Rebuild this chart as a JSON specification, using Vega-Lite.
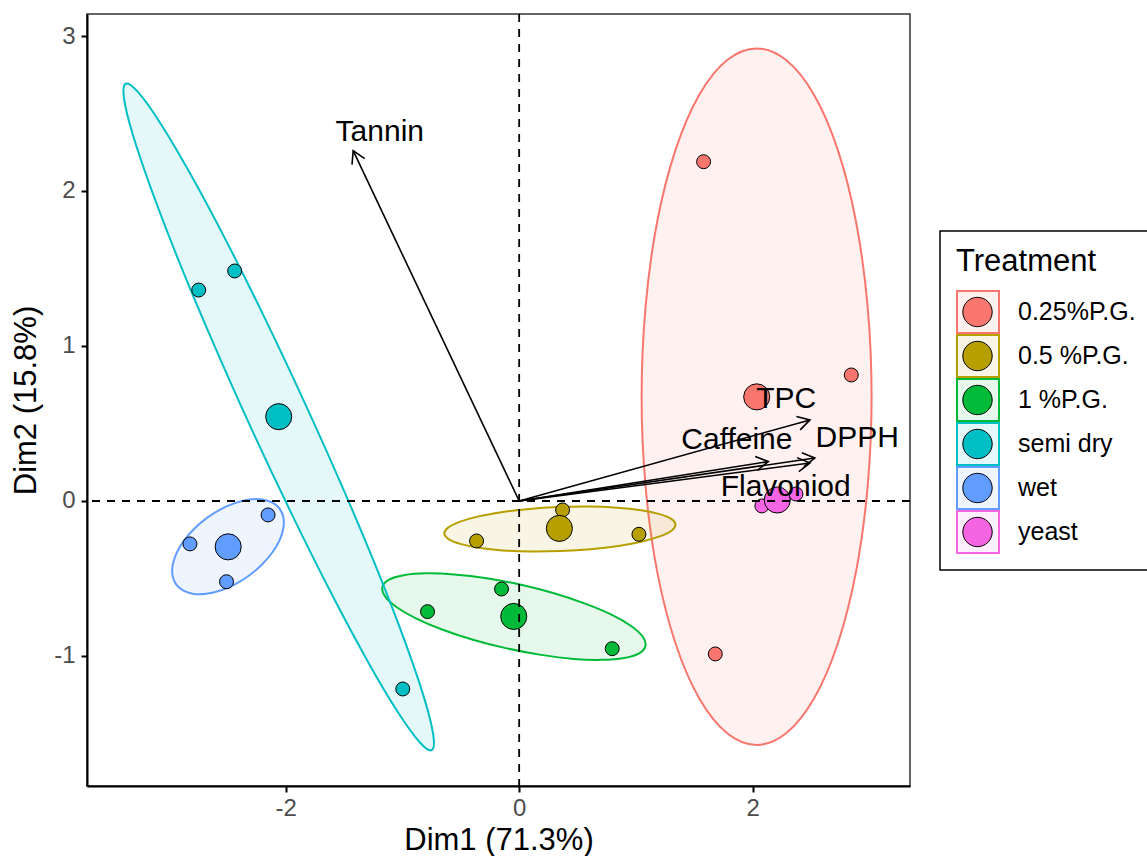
{
  "$schema": "https://vega.github.io/schema/vega-lite/v6.json",
  "width": 823,
  "height": 772,
  "autosize": {"type": "none"},
  "padding": {"left": 87, "top": 14, "right": 237, "bottom": 70},
  "config": {
    "font": "Liberation Sans",
    "locale": {"number": {"decimal": ".", "thousands": ",", "grouping": [3], "currency": ["$", ""], "minus": "-"}},
    "view": {"stroke": "#333333", "strokeWidth": 1.5},
    "axis": {
      "grid": false,
      "domainColor": "black",
      "domainWidth": 2,
      "tickColor": "black",
      "tickWidth": 2,
      "tickSize": 6,
      "format": "d",
      "labelFont": "Liberation Sans",
      "labelFontSize": 24,
      "labelColor": "#4D4D4D",
      "titleFont": "Liberation Sans",
      "titleFontSize": 31,
      "titleFontWeight": "normal",
      "titleColor": "black"
    }
  },
  "datasets": {
    "ellipses": [
      {"Treatment": "0.25%P.G.", "i": 0, "x": 2.034, "y": 2.920},
      {"Treatment": "0.25%P.G.", "i": 1, "x": 2.289, "y": 2.843},
      {"Treatment": "0.25%P.G.", "i": 2, "x": 2.527, "y": 2.619},
      {"Treatment": "0.25%P.G.", "i": 3, "x": 2.731, "y": 2.262},
      {"Treatment": "0.25%P.G.", "i": 4, "x": 2.887, "y": 1.797},
      {"Treatment": "0.25%P.G.", "i": 5, "x": 2.985, "y": 1.255},
      {"Treatment": "0.25%P.G.", "i": 6, "x": 3.019, "y": 0.673},
      {"Treatment": "0.25%P.G.", "i": 7, "x": 2.985, "y": 0.092},
      {"Treatment": "0.25%P.G.", "i": 8, "x": 2.887, "y": -0.451},
      {"Treatment": "0.25%P.G.", "i": 9, "x": 2.731, "y": -0.916},
      {"Treatment": "0.25%P.G.", "i": 10, "x": 2.527, "y": -1.273},
      {"Treatment": "0.25%P.G.", "i": 11, "x": 2.289, "y": -1.497},
      {"Treatment": "0.25%P.G.", "i": 12, "x": 2.034, "y": -1.574},
      {"Treatment": "0.25%P.G.", "i": 13, "x": 1.779, "y": -1.497},
      {"Treatment": "0.25%P.G.", "i": 14, "x": 1.542, "y": -1.273},
      {"Treatment": "0.25%P.G.", "i": 15, "x": 1.338, "y": -0.916},
      {"Treatment": "0.25%P.G.", "i": 16, "x": 1.181, "y": -0.451},
      {"Treatment": "0.25%P.G.", "i": 17, "x": 1.083, "y": 0.092},
      {"Treatment": "0.25%P.G.", "i": 18, "x": 1.049, "y": 0.673},
      {"Treatment": "0.25%P.G.", "i": 19, "x": 1.083, "y": 1.255},
      {"Treatment": "0.25%P.G.", "i": 20, "x": 1.181, "y": 1.797},
      {"Treatment": "0.25%P.G.", "i": 21, "x": 1.338, "y": 2.262},
      {"Treatment": "0.25%P.G.", "i": 22, "x": 1.542, "y": 2.619},
      {"Treatment": "0.25%P.G.", "i": 23, "x": 1.779, "y": 2.843},

      {"Treatment": "0.5 %P.G.", "i": 0, "x": 1.339, "y": -0.152},
      {"Treatment": "0.5 %P.G.", "i": 1, "x": 1.307, "y": -0.190},
      {"Treatment": "0.5 %P.G.", "i": 2, "x": 1.210, "y": -0.227},
      {"Treatment": "0.5 %P.G.", "i": 3, "x": 1.054, "y": -0.261},
      {"Treatment": "0.5 %P.G.", "i": 4, "x": 0.850, "y": -0.290},
      {"Treatment": "0.5 %P.G.", "i": 5, "x": 0.612, "y": -0.311},
      {"Treatment": "0.5 %P.G.", "i": 6, "x": 0.356, "y": -0.323},
      {"Treatment": "0.5 %P.G.", "i": 7, "x": 0.100, "y": -0.326},
      {"Treatment": "0.5 %P.G.", "i": 8, "x": -0.140, "y": -0.319},
      {"Treatment": "0.5 %P.G.", "i": 9, "x": -0.346, "y": -0.302},
      {"Treatment": "0.5 %P.G.", "i": 10, "x": -0.505, "y": -0.277},
      {"Treatment": "0.5 %P.G.", "i": 11, "x": -0.605, "y": -0.246},
      {"Treatment": "0.5 %P.G.", "i": 12, "x": -0.641, "y": -0.210},
      {"Treatment": "0.5 %P.G.", "i": 13, "x": -0.609, "y": -0.172},
      {"Treatment": "0.5 %P.G.", "i": 14, "x": -0.512, "y": -0.135},
      {"Treatment": "0.5 %P.G.", "i": 15, "x": -0.356, "y": -0.101},
      {"Treatment": "0.5 %P.G.", "i": 16, "x": -0.152, "y": -0.073},
      {"Treatment": "0.5 %P.G.", "i": 17, "x": 0.086, "y": -0.051},
      {"Treatment": "0.5 %P.G.", "i": 18, "x": 0.342, "y": -0.039},
      {"Treatment": "0.5 %P.G.", "i": 19, "x": 0.598, "y": -0.036},
      {"Treatment": "0.5 %P.G.", "i": 20, "x": 0.838, "y": -0.043},
      {"Treatment": "0.5 %P.G.", "i": 21, "x": 1.044, "y": -0.060},
      {"Treatment": "0.5 %P.G.", "i": 22, "x": 1.203, "y": -0.085},
      {"Treatment": "0.5 %P.G.", "i": 23, "x": 1.303, "y": -0.116},

      {"Treatment": "1 %P.G.", "i": 0, "x": 1.082, "y": -0.936},
      {"Treatment": "1 %P.G.", "i": 1, "x": 1.028, "y": -0.983},
      {"Treatment": "1 %P.G.", "i": 2, "x": 0.900, "y": -1.013},
      {"Treatment": "1 %P.G.", "i": 3, "x": 0.709, "y": -1.025},
      {"Treatment": "1 %P.G.", "i": 4, "x": 0.466, "y": -1.019},
      {"Treatment": "1 %P.G.", "i": 5, "x": 0.188, "y": -0.993},
      {"Treatment": "1 %P.G.", "i": 6, "x": -0.106, "y": -0.951},
      {"Treatment": "1 %P.G.", "i": 7, "x": -0.396, "y": -0.895},
      {"Treatment": "1 %P.G.", "i": 8, "x": -0.661, "y": -0.829},
      {"Treatment": "1 %P.G.", "i": 9, "x": -0.885, "y": -0.757},
      {"Treatment": "1 %P.G.", "i": 10, "x": -1.052, "y": -0.684},
      {"Treatment": "1 %P.G.", "i": 11, "x": -1.149, "y": -0.616},
      {"Treatment": "1 %P.G.", "i": 12, "x": -1.172, "y": -0.556},
      {"Treatment": "1 %P.G.", "i": 13, "x": -1.118, "y": -0.509},
      {"Treatment": "1 %P.G.", "i": 14, "x": -0.990, "y": -0.479},
      {"Treatment": "1 %P.G.", "i": 15, "x": -0.799, "y": -0.467},
      {"Treatment": "1 %P.G.", "i": 16, "x": -0.556, "y": -0.474},
      {"Treatment": "1 %P.G.", "i": 17, "x": -0.278, "y": -0.499},
      {"Treatment": "1 %P.G.", "i": 18, "x": 0.016, "y": -0.541},
      {"Treatment": "1 %P.G.", "i": 19, "x": 0.306, "y": -0.597},
      {"Treatment": "1 %P.G.", "i": 20, "x": 0.571, "y": -0.664},
      {"Treatment": "1 %P.G.", "i": 21, "x": 0.795, "y": -0.735},
      {"Treatment": "1 %P.G.", "i": 22, "x": 0.962, "y": -0.808},
      {"Treatment": "1 %P.G.", "i": 23, "x": 1.059, "y": -0.876},

      {"Treatment": "semi dry", "i": 0, "x": -0.750, "y": -1.608},
      {"Treatment": "semi dry", "i": 1, "x": -0.854, "y": -1.555},
      {"Treatment": "semi dry", "i": 2, "x": -1.041, "y": -1.360},
      {"Treatment": "semi dry", "i": 3, "x": -1.297, "y": -1.035},
      {"Treatment": "semi dry", "i": 4, "x": -1.605, "y": -0.602},
      {"Treatment": "semi dry", "i": 5, "x": -1.944, "y": -0.091},
      {"Treatment": "semi dry", "i": 6, "x": -2.291, "y": 0.462},
      {"Treatment": "semi dry", "i": 7, "x": -2.622, "y": 1.022},
      {"Treatment": "semi dry", "i": 8, "x": -2.915, "y": 1.548},
      {"Treatment": "semi dry", "i": 9, "x": -3.149, "y": 2.006},
      {"Treatment": "semi dry", "i": 10, "x": -3.310, "y": 2.364},
      {"Treatment": "semi dry", "i": 11, "x": -3.385, "y": 2.598},
      {"Treatment": "semi dry", "i": 12, "x": -3.370, "y": 2.692},
      {"Treatment": "semi dry", "i": 13, "x": -3.266, "y": 2.639},
      {"Treatment": "semi dry", "i": 14, "x": -3.079, "y": 2.444},
      {"Treatment": "semi dry", "i": 15, "x": -2.823, "y": 2.119},
      {"Treatment": "semi dry", "i": 16, "x": -2.515, "y": 1.686},
      {"Treatment": "semi dry", "i": 17, "x": -2.176, "y": 1.175},
      {"Treatment": "semi dry", "i": 18, "x": -1.830, "y": 0.622},
      {"Treatment": "semi dry", "i": 19, "x": -1.498, "y": 0.062},
      {"Treatment": "semi dry", "i": 20, "x": -1.205, "y": -0.464},
      {"Treatment": "semi dry", "i": 21, "x": -0.971, "y": -0.922},
      {"Treatment": "semi dry", "i": 22, "x": -0.810, "y": -1.280},
      {"Treatment": "semi dry", "i": 23, "x": -0.735, "y": -1.514},

      {"Treatment": "wet", "i": 0, "x": -2.051, "y": -0.051},
      {"Treatment": "wet", "i": 1, "x": -2.019, "y": -0.107},
      {"Treatment": "wet", "i": 2, "x": -2.020, "y": -0.176},
      {"Treatment": "wet", "i": 3, "x": -2.053, "y": -0.254},
      {"Treatment": "wet", "i": 4, "x": -2.116, "y": -0.334},
      {"Treatment": "wet", "i": 5, "x": -2.205, "y": -0.411},
      {"Treatment": "wet", "i": 6, "x": -2.313, "y": -0.481},
      {"Treatment": "wet", "i": 7, "x": -2.434, "y": -0.538},
      {"Treatment": "wet", "i": 8, "x": -2.559, "y": -0.578},
      {"Treatment": "wet", "i": 9, "x": -2.679, "y": -0.599},
      {"Treatment": "wet", "i": 10, "x": -2.787, "y": -0.600},
      {"Treatment": "wet", "i": 11, "x": -2.875, "y": -0.579},
      {"Treatment": "wet", "i": 12, "x": -2.937, "y": -0.540},
      {"Treatment": "wet", "i": 13, "x": -2.969, "y": -0.483},
      {"Treatment": "wet", "i": 14, "x": -2.968, "y": -0.414},
      {"Treatment": "wet", "i": 15, "x": -2.935, "y": -0.336},
      {"Treatment": "wet", "i": 16, "x": -2.872, "y": -0.256},
      {"Treatment": "wet", "i": 17, "x": -2.783, "y": -0.179},
      {"Treatment": "wet", "i": 18, "x": -2.675, "y": -0.109},
      {"Treatment": "wet", "i": 19, "x": -2.554, "y": -0.052},
      {"Treatment": "wet", "i": 20, "x": -2.429, "y": -0.012},
      {"Treatment": "wet", "i": 21, "x": -2.309, "y": 0.009},
      {"Treatment": "wet", "i": 22, "x": -2.201, "y": 0.010},
      {"Treatment": "wet", "i": 23, "x": -2.113, "y": -0.011}
    ],
    "samples": [
      {"Treatment": "0.25%P.G.", "x": 1.580, "y": 2.189},
      {"Treatment": "0.25%P.G.", "x": 2.845, "y": 0.813},
      {"Treatment": "0.25%P.G.", "x": 1.680, "y": -0.987},
      {"Treatment": "0.5 %P.G.", "x": -0.365, "y": -0.258},
      {"Treatment": "0.5 %P.G.", "x": 0.372, "y": -0.058},
      {"Treatment": "0.5 %P.G.", "x": 1.026, "y": -0.215},
      {"Treatment": "1 %P.G.", "x": -0.785, "y": -0.714},
      {"Treatment": "1 %P.G.", "x": -0.151, "y": -0.568},
      {"Treatment": "1 %P.G.", "x": 0.797, "y": -0.953},
      {"Treatment": "semi dry", "x": -2.745, "y": 1.361},
      {"Treatment": "semi dry", "x": -2.437, "y": 1.484},
      {"Treatment": "semi dry", "x": -0.997, "y": -1.213},
      {"Treatment": "wet", "x": -2.820, "y": -0.277},
      {"Treatment": "wet", "x": -2.151, "y": -0.090},
      {"Treatment": "wet", "x": -2.507, "y": -0.521},
      {"Treatment": "yeast", "x": 2.079, "y": -0.032},
      {"Treatment": "yeast", "x": 2.371, "y": 0.045},
      {"Treatment": "yeast", "x": 2.183, "y": 0.006}
    ],
    "loadings": [
      {"variable": "Tannin", "x": -1.422, "y": 2.260, "label_x": -1.194, "label_y": 2.383},
      {"variable": "TPC", "x": 2.491, "y": 0.523, "label_x": 2.287, "label_y": 0.656},
      {"variable": "Caffeine", "x": 2.134, "y": 0.254, "label_x": 1.865, "label_y": 0.394},
      {"variable": "DPPH", "x": 2.533, "y": 0.277, "label_x": 2.896, "label_y": 0.405},
      {"variable": "Flavoniod", "x": 2.491, "y": 0.245, "label_x": 2.283, "label_y": 0.092}
    ]
  },
  "layer": [
    {
      "data": {"name": "ellipses"},
      "mark": {"type": "line", "interpolate": "cardinal-closed", "strokeWidth": 2, "fillOpacity": 0.1, "strokeOpacity": 1},
      "encoding": {
        "x": {"field": "x", "type": "quantitative", "scale": {"domain": [-3.702, 3.348], "nice": false, "zero": false},
              "axis": {"values": [-2, 0, 2], "title": "Dim1 (71.3%)", "labelPadding": 4, "titlePadding": 5}},
        "y": {"field": "y", "type": "quantitative", "scale": {"domain": [-1.839, 3.142], "nice": false, "zero": false},
              "axis": {"values": [-1, 0, 1, 2, 3], "title": "Dim2 (15.8%)", "labelPadding": 6, "titlePadding": 11}},
        "order": {"field": "i", "type": "quantitative"},
        "stroke": {
          "field": "Treatment", "type": "nominal",
          "scale": {"domain": ["0.25%P.G.", "0.5 %P.G.", "1 %P.G.", "semi dry", "wet", "yeast"],
                    "range": ["#F8766D", "#B79F00", "#00BA38", "#00BFC4", "#619CFF", "#F564E3"]},
          "legend": {
            "title": "Treatment", "orient": "none", "legendX": 853, "legendY": 217,
            "symbolType": "square", "symbolSize": 1764, "symbolStrokeWidth": 2,
            "clipHeight": 44, "rowPadding": 0,
            "labelFont": "Liberation Sans", "labelFontSize": 25, "labelColor": "black", "labelOffset": 18,
            "titleFont": "Liberation Sans", "titleFontSize": 31, "titleFontWeight": "normal", "titleColor": "black", "titlePadding": 12,
            "padding": 16, "strokeColor": "black", "fillColor": "white",
            "encode": {
              "symbols": {"update": {"fillOpacity": {"value": 0.1}, "strokeOpacity": {"value": 1}}},
              "legend": {"update": {"strokeWidth": {"value": 1.5}}}
            }
          }
        },
        "fill": {
          "field": "Treatment", "type": "nominal",
          "scale": {"domain": ["0.25%P.G.", "0.5 %P.G.", "1 %P.G.", "semi dry", "wet", "yeast"],
                    "range": ["#F8766D", "#B79F00", "#00BA38", "#00BFC4", "#619CFF", "#F564E3"]},
          "legend": {
            "title": "Treatment", "orient": "none", "legendX": 853, "legendY": 217,
            "symbolType": "square", "symbolSize": 1764, "symbolStrokeWidth": 2,
            "clipHeight": 44, "rowPadding": 0,
            "labelFont": "Liberation Sans", "labelFontSize": 25, "labelColor": "black", "labelOffset": 18,
            "titleFont": "Liberation Sans", "titleFontSize": 31, "titleFontWeight": "normal", "titleColor": "black", "titlePadding": 12,
            "padding": 16, "strokeColor": "black", "fillColor": "white",
            "encode": {
              "symbols": {"update": {"fillOpacity": {"value": 0.1}, "strokeOpacity": {"value": 1}}},
              "legend": {"update": {"strokeWidth": {"value": 1.5}}}
            }
          }
        }
      }
    },
    {
      "data": {"name": "samples"},
      "mark": {"type": "circle", "size": 195, "stroke": "black", "strokeWidth": 1, "opacity": 1},
      "encoding": {
        "x": {"field": "x", "type": "quantitative"},
        "y": {"field": "y", "type": "quantitative"},
        "color": {
          "field": "Treatment", "type": "nominal",
          "scale": {"range": ["#F8766D", "#B79F00", "#00BA38", "#00BFC4", "#619CFF", "#F564E3"]},
          "legend": {
            "title": "\u00a0", "orient": "none", "legendX": 853, "legendY": 217,
            "symbolType": "M -0.7 0 A 0.7 0.7 0 1 0 0.7 0 A 0.7 0.7 0 1 0 -0.7 0 Z",
            "symbolSize": 1764, "symbolStrokeColor": "black", "symbolStrokeWidth": 1, "symbolOpacity": 1,
            "clipHeight": 44, "rowPadding": 0,
            "labelExpr": "''", "labelFontSize": 25, "labelOffset": 18,
            "titleFont": "Liberation Sans", "titleFontSize": 31, "titleFontWeight": "normal", "titleOpacity": 0, "titlePadding": 12,
            "padding": 16
          }
        }
      }
    },
    {
      "data": {"name": "samples"},
      "transform": [
        {"aggregate": [{"op": "mean", "field": "x", "as": "x"}, {"op": "mean", "field": "y", "as": "y"}], "groupby": ["Treatment"]}
      ],
      "mark": {"type": "circle", "size": 680, "stroke": "black", "strokeWidth": 1, "opacity": 1},
      "encoding": {
        "x": {"field": "x", "type": "quantitative"},
        "y": {"field": "y", "type": "quantitative"},
        "color": {"field": "Treatment", "type": "nominal"}
      }
    },
    {
      "data": {"values": [{}]},
      "mark": {"type": "rule", "color": "black", "strokeWidth": 1.8, "strokeDash": [8, 7]},
      "encoding": {"y": {"datum": 0, "type": "quantitative"}}
    },
    {
      "data": {"values": [{}]},
      "mark": {"type": "rule", "color": "black", "strokeWidth": 1.8, "strokeDash": [8, 7]},
      "encoding": {"x": {"datum": 0, "type": "quantitative"}}
    },
    {
      "data": {"name": "loadings"},
      "mark": {"type": "rule", "color": "black", "strokeWidth": 1.6},
      "encoding": {
        "x": {"field": "x", "type": "quantitative"},
        "y": {"field": "y", "type": "quantitative"},
        "x2": {"datum": 0},
        "y2": {"datum": 0}
      }
    },
    {
      "data": {"name": "loadings"},
      "transform": [
        {"calculate": "atan2(datum.x * 116.7, datum.y * 155) * 180 / PI", "as": "heading"}
      ],
      "mark": {"type": "point", "shape": "M -0.5 0.866 L 0 0 L 0.5 0.866", "filled": false, "stroke": "black", "strokeWidth": 1.6, "size": 784, "opacity": 1},
      "encoding": {
        "x": {"field": "x", "type": "quantitative"},
        "y": {"field": "y", "type": "quantitative"},
        "angle": {"field": "heading", "type": "quantitative", "scale": null}
      }
    },
    {
      "data": {"name": "loadings"},
      "mark": {"type": "text", "fontSize": 30, "color": "black", "font": "Liberation Sans", "align": "center", "baseline": "middle"},
      "encoding": {
        "x": {"field": "label_x", "type": "quantitative"},
        "y": {"field": "label_y", "type": "quantitative"},
        "text": {"field": "variable"}
      }
    }
  ]
}
